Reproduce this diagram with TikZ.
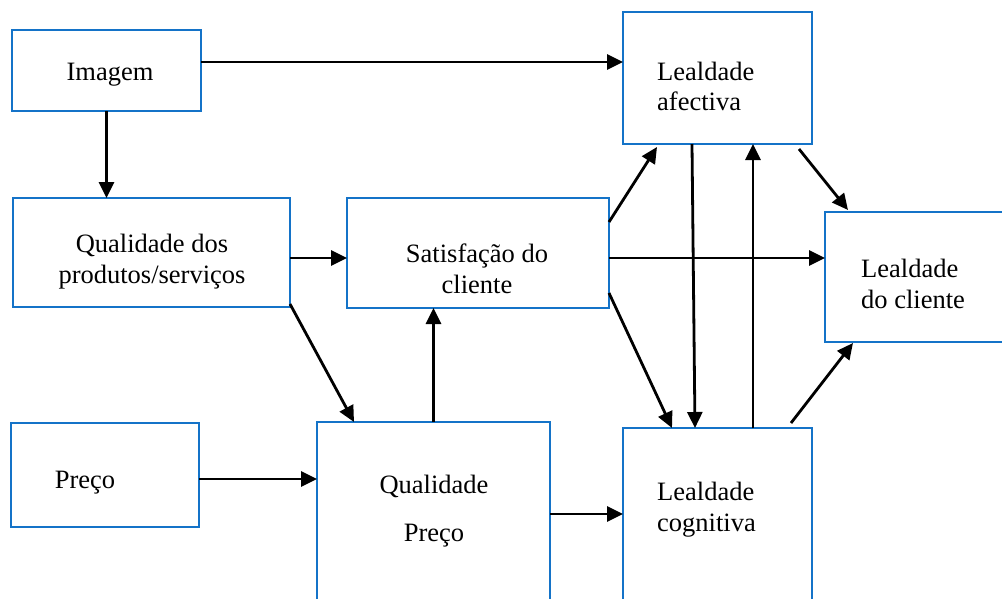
\documentclass[tikz,border=0pt]{standalone}
\usepackage{fontspec}
\setmainfont{Liberation Serif}
\usetikzlibrary{arrows.meta}
\definecolor{boxblue}{RGB}{20,115,200}
\begin{document}
\begin{tikzpicture}[x=1pt,y=-1pt,
  box/.style={draw=boxblue, line width=2.2pt, fill=none, inner sep=0pt, outer sep=0pt, anchor=north west},
  arr/.style={draw=black, line width=2.8pt, -{Triangle[length=16pt,width=15pt]}},
  lbl/.style={font=\fontsize{26.5}{31}\selectfont, inner sep=0pt, anchor=base},
  lblw/.style={font=\fontsize{26.5}{31}\selectfont, inner sep=0pt, anchor=base west}]
\path[use as bounding box] (0,0) rectangle (1002,598);
\clip (0,0) rectangle (1002,598);
% boxes
\node[box, minimum width=189pt, minimum height=81pt] (img) at (12,30) {};
\node[box, minimum width=277pt, minimum height=109pt] (qp) at (13,198) {};
\node[box, minimum width=262pt, minimum height=110pt] (sat) at (347,198) {};
\node[box, minimum width=188pt, minimum height=104pt] (pre) at (11,423) {};
\node[box, minimum width=233pt, minimum height=218pt] (qpr) at (317,422) {};
\node[box, minimum width=189pt, minimum height=132pt] (aff) at (623,12) {};
\node[box, minimum width=215pt, minimum height=130pt] (lc) at (825,212) {};
\node[box, minimum width=189pt, minimum height=212pt] (cog) at (623,428) {};
% labels
\node[lbl] (timg) at (110,80) {Imagem};
\node[lbl] (tqp1) at (152,252) {Qualidade dos};
\node[lbl] (tqp2) at (152,283) {produtos/serviços};
\node[lbl] (tsat1) at (477,262) {Satisfação do};
\node[lbl] (tsat2) at (477,293) {cliente};
\node[lbl] (tpre) at (85,488) {Preço};
\node[lbl] (tqpr1) at (434,493) {Qualidade};
\node[lbl] (tqpr2) at (434,541) {Preço};
\node[lblw] (taff1) at (657,80) {Lealdade};
\node[lblw] (taff2) at (657,110) {afectiva};
\node[lblw] (tlc1) at (861,277) {Lealdade};
\node[lblw] (tlc2) at (861,308) {do cliente};
\node[lblw] (tcog1) at (657,500) {Lealdade};
\node[lblw] (tcog2) at (657,531) {cognitiva};
% connectors
\draw[arr] ([yshift=8.5pt]img.east) -- ([yshift=8.5pt]img.east -| aff.west);
\draw[arr] (img.south) -- (img.south |- qp.north);
\draw[arr] ([yshift=-5.5pt]qp.east) -- ([yshift=-5.5pt]qp.east -| sat.west);
\draw[arr] ([yshift=3pt]qp.south east) -- ([xshift=37pt]qpr.north west);
\draw[arr] (qpr.north) -- (qpr.north |- sat.south);
\draw[arr] ([yshift=-4pt]pre.east) -- ([yshift=-4pt]pre.east -| qpr.west);
\draw[arr] ([yshift=-92pt]qpr.north east) -- ([yshift=-92pt]qpr.north east -| cog.west);
\draw[arr] ([yshift=-24pt]sat.north east) -- ([xshift=34pt,yshift=-3pt]aff.south west);
\draw[arr] ([yshift=-5pt]sat.east) -- ([yshift=-5pt]sat.east -| lc.west);
\draw[arr] ([yshift=15pt]sat.south east) -- ([xshift=49pt]cog.north west);
\draw[arr] ([xshift=69pt]aff.south west) -- ([xshift=72pt]cog.north west);
\draw[arr] ([xshift=130pt]cog.north west) -- ([xshift=130pt]aff.south west);
\draw[arr] ([xshift=-13pt,yshift=-5pt]aff.south east) -- ([xshift=23pt,yshift=2pt]lc.north west);
\draw[arr] ([xshift=-21pt,yshift=5pt]cog.north east) -- ([xshift=28pt,yshift=-1pt]lc.south west);
\end{tikzpicture}
\end{document}
